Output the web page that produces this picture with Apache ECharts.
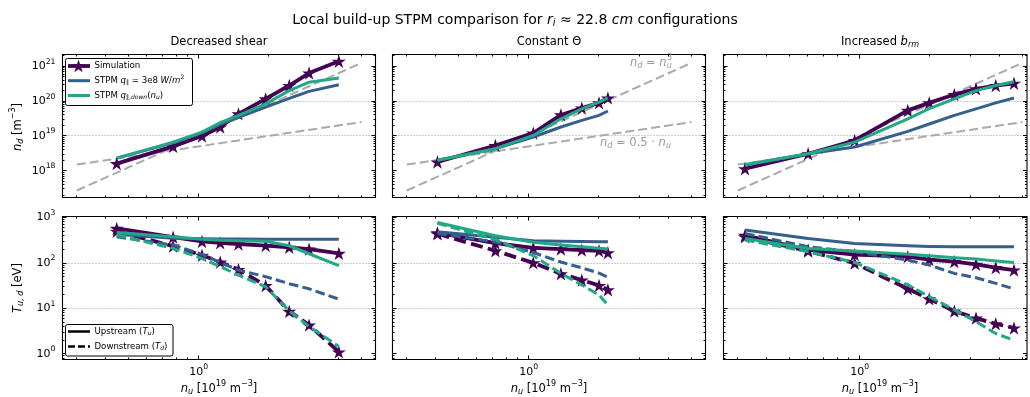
<!DOCTYPE html>
<html>
<head>
<meta charset="utf-8">
<script src="https://cdn.jsdelivr.net/npm/echarts@6/dist/echarts.min.js"></script>
<style>
  html, body { margin: 0; padding: 0; background: #ffffff; }
  #chart { width: 1030px; height: 397px; }
</style>
</head>
<body>
<div id="chart"></div>
<script>
// ---------- data: upstream density n_u [1e19 m^-3] ----------
// Decreased shear
const nuShear = [0.445, 0.777, 1.034, 1.238, 1.483, 1.94, 2.45, 2.98, 4.0];
const ndSimShear = [1.6e18, 5.0e18, 9.9e18, 1.8e19, 4.3e19, 1.16e20, 2.8e20, 6.4e20, 1.39e21];
const ndFixShear = [2.3e18, 6.3e18, 1.22e19, 2.15e19, 3.4e19, 6.7e19, 1.2e20, 1.9e20, 2.95e20];
const ndVarShear = [2.3e18, 6.6e18, 1.29e19, 2.4e19, 3.9e19, 8.3e19, 2.0e20, 3.5e20, 4.6e20];
const tUpSimShear = [580, 370, 298, 278, 262, 242, 222, 202, 163];
const tDownSimShear = [500, 235, 148, 105, 72, 31.7, 8.6, 4.3, 1.1];
const tUpFixShear = [430, 350, 340, 337, 336, 335, 335, 334, 334];
const tDownFixShear = [378, 249, 155, 103, 70, 50, 35, 27, 16];
const tUpVarShear = [470, 380, 335, 318, 308, 300, 240, 160, 88];
const tDownVarShear = [412, 210, 126, 83, 54, 30, 8.8, 4.0, 1.45];

// Constant Theta
const nuConst = [0.406, 0.72, 1.047, 1.376, 1.692, 2.006, 2.19];
const ndSimConst = [1.78e18, 5.3e18, 1.2e19, 4.0e19, 6.3e19, 8.9e19, 1.23e20];
const ndFixConst = [2.0e18, 4.3e18, 9.3e18, 1.8e19, 2.8e19, 3.9e19, 5.2e19];
const ndVarConst = [2.0e18, 4.3e18, 1.03e19, 3.1e19, 6.0e19, 9.3e19, 1.23e20];
const tUpSimConst = [460, 275, 215, 203, 193, 186, 168];
const tDownSimConst = [440, 186, 101, 58, 42, 32, 25.7];
const tUpFixConst = [490, 370, 310, 300, 296, 294, 294];
const tDownFixConst = [450, 290, 170, 105, 78, 60, 49];
const tUpVarConst = [780, 400, 285, 250, 228, 212, 203];
const tDownVarConst = [750, 330, 145, 59, 33, 19.8, 11.9];

// Increased b_rm
const nuBrm = [0.322, 0.601, 0.952, 1.61, 1.99, 2.55, 3.16, 3.84, 4.6];
const ndSimBrm = [1.14e18, 3.07e18, 7.4e18, 5.4e19, 8.9e19, 1.54e20, 2.24e20, 2.8e20, 3.25e20];
const ndFixBrm = [1.45e18, 3.07e18, 4.8e18, 1.35e19, 2.2e19, 3.9e19, 6.0e19, 8.9e19, 1.23e20];
const ndVarBrm = [1.48e18, 3.07e18, 6.6e18, 3.1e19, 6.1e19, 1.16e20, 2.0e20, 2.8e20, 3.6e20];
const tUpSimBrm = [405, 195, 153, 138, 119, 107, 93, 79, 70];
const tDownSimBrm = [378, 184, 99, 27, 16.2, 8.7, 6.1, 4.6, 3.7];
const tUpFixBrm = [531, 347, 270, 240, 232, 228, 228, 228, 228];
const tDownFixBrm = [448, 228, 177, 116, 90, 59, 47.5, 35.6, 26.9];
const tUpVarBrm = [347, 209, 184, 155, 145, 131, 122, 111, 102];
const tDownVarBrm = [320, 177, 103, 33, 18.2, 9.3, 5.1, 2.8, 2.0];

// reference scalings, end points of n_d = n_u^3 and n_d = 0.5 n_u
const refCube = [[0.3, 2.7e17], [5, 1.25e21]];
const refHalf = [[0.3, 1.5e18], [5, 2.5e19]];

// axis limits and ticks
const xLimits = [0.2604, 5.747];
const xLimitsRight = [0.2604, 5.23];
const ndLimits = [1.70e17, 2.18e21];
const tLimits = [0.75, 1057];
const xMajorTicks = [1];
const xMinorTicks = [0.3, 0.4, 0.5, 0.6, 0.7, 0.8, 0.9, 2, 3, 4, 5];
const ndMajorTicks = [1e18, 1e19, 1e20, 1e21];
const tMajorTicks = [1, 10, 100, 1000];
const minorMantissas = [2, 3, 4, 5, 6, 7, 8, 9];
const ndDecades = [1e17, 1e18, 1e19, 1e20, 1e21];
const tDecades = [0.1, 1, 10, 100];
const ndGridLines = [1e19, 1e20];
const tGridLines = [10, 100];

// ---------- style ----------
const FONT = '"DejaVu Sans", sans-serif';
const PURPLE = '#440154', BLUE = '#355f8d', TEAL = '#22a884', REFGRAY = '#aaaaaa';
const STAR = 'path://M0,-1L0.2245,-0.309L0.9511,-0.309L0.3633,0.118L0.5878,0.809L0,0.382L-0.5878,0.809L-0.3633,0.118L-0.9511,-0.309L-0.2245,-0.309Z';

const cols = [
  { left: 62.5, width: 313, cx: 219 },
  { left: 392.5, width: 313, cx: 549 },
  { left: 723.5, width: 303.5, cx: 880 }
];
const rows = [
  { top: 54.5, height: 143 },
  { top: 216.5, height: 143 }
];

function richSet(size, color) {
  const base = { fontFamily: FONT, fontSize: size, fill: color, color: color };
  const small = size * 0.7;
  return {
    r: Object.assign({}, base),
    i: Object.assign({}, base, { fontStyle: 'italic' }),
    sub: Object.assign({}, base, { fontSize: small, padding: [size * 0.5, 0, 0, 0] }),
    isub: Object.assign({}, base, { fontSize: small, fontStyle: 'italic', padding: [size * 0.5, 0, 0, 0] }),
    sup: Object.assign({}, base, { fontSize: small, padding: [0, 0, size * 0.82, 0] })
  };
}

function powLabel(v) {
  const e = Math.log10(v);
  const k = Math.round(e);
  if (Math.abs(e - k) > 1e-6) return '';
  return '{b|10}{s|' + k + '}';
}
const tickRich = {
  b: { fontFamily: FONT, fontSize: 11, color: '#000' },
  s: { fontFamily: FONT, fontSize: 7.7, color: '#000', padding: [0, 0, 9, 0] }
};

// dotted horizontal guides at selected decades
function renderGuide(params, api) {
  const cs = params.coordSys;
  const p = api.coord([api.value(0), api.value(1)]);
  const y = Math.round(p[1] - 0.5) + 0.5;
  return { type: 'line', shape: { x1: cs.x, y1: y, x2: cs.x + cs.width, y2: y },
    style: { stroke: '#9a9a9a', lineWidth: 1, lineDash: [1, 2] } };
}
function guides(g, xr, values) {
  return {
    type: 'custom', xAxisIndex: g, yAxisIndex: g, clip: false, silent: true, z: 1,
    encode: { x: 0, y: 1 }, renderItem: renderGuide,
    data: values.map(v => [xr[0], v])
  };
}

function curve(g, xs, ys, color, width, dashed, stars, z) {
  return {
    type: 'line', xAxisIndex: g, yAxisIndex: g, z: z, silent: true,
    data: xs.map((x, i) => [x, ys[i]]),
    symbol: stars ? STAR : 'none', symbolSize: 14, symbolKeepAspect: true,
    showSymbol: !!stars,
    itemStyle: { color: color },
    lineStyle: { color: color, width: width, type: dashed ? [width * 3.2, width * 1.4] : 'solid',
      cap: 'butt', join: 'round' },
    emphasis: { disabled: true }
  };
}

function refLine(g, pts) {
  return {
    type: 'line', xAxisIndex: g, yAxisIndex: g, z: 1.5, silent: true, data: pts,
    symbol: 'none', lineStyle: { color: REFGRAY, width: 2, type: [9, 4] },
    emphasis: { disabled: true }
  };
}

const panels = [
  { nu: nuShear, nd: [ndSimShear, ndFixShear, ndVarShear],
    up: [tUpSimShear, tUpFixShear, tUpVarShear], down: [tDownSimShear, tDownFixShear, tDownVarShear] },
  { nu: nuConst, nd: [ndSimConst, ndFixConst, ndVarConst],
    up: [tUpSimConst, tUpFixConst, tUpVarConst], down: [tDownSimConst, tDownFixConst, tDownVarConst] },
  { nu: nuBrm, nd: [ndSimBrm, ndFixBrm, ndVarBrm],
    up: [tUpSimBrm, tUpFixBrm, tUpVarBrm], down: [tDownSimBrm, tDownFixBrm, tDownVarBrm] }
];

const grids = [], xAxes = [], yAxes = [], series = [], limits = [];
rows.forEach((row, r) => {
  cols.forEach((col, c) => {
    const g = r * 3 + c;
    const xr = c === 2 ? xLimitsRight : xLimits;
    const yr = r === 0 ? ndLimits : tLimits;
    limits.push({ g: g, xr: xr, yr: yr,
      yMajor: r === 0 ? ndMajorTicks : tMajorTicks, yDecades: r === 0 ? ndDecades : tDecades });
    grids.push({ left: col.left, top: row.top, width: col.width, height: row.height,
      show: true, borderColor: '#000', borderWidth: 1.1, backgroundColor: '#fff' });
    xAxes.push({ type: 'log', gridIndex: g, min: xr[0], max: xr[1],
      axisLine: { show: false }, axisTick: { show: false }, splitLine: { show: false },
      axisLabel: { show: r === 1, formatter: powLabel, rich: tickRich, margin: 4,
        showMinLabel: true, showMaxLabel: true } });
    yAxes.push({ type: 'log', gridIndex: g, min: yr[0], max: yr[1],
      axisLine: { show: false }, axisTick: { show: false }, splitLine: { show: false },
      axisLabel: { show: c === 0, formatter: powLabel, rich: tickRich, margin: 7 } });

    const p = panels[c];
    if (r === 0) {
      series.push(guides(g, xr, ndGridLines));
      series.push(refLine(g, refCube));
      series.push(refLine(g, refHalf));
      series.push(curve(g, p.nu, p.nd[0], PURPLE, 3.8, false, true, 2));
      series.push(curve(g, p.nu, p.nd[1], BLUE, 3, false, false, 3));
      series.push(curve(g, p.nu, p.nd[2], TEAL, 3, false, false, 4));
    } else {
      series.push(guides(g, xr, tGridLines));
      series.push(curve(g, p.nu, p.up[0], PURPLE, 3.8, false, true, 2));
      series.push(curve(g, p.nu, p.down[0], PURPLE, 3.8, true, true, 2));
      series.push(curve(g, p.nu, p.up[1], BLUE, 3, false, false, 3));
      series.push(curve(g, p.nu, p.down[1], BLUE, 3, true, false, 3));
      series.push(curve(g, p.nu, p.up[2], TEAL, 3, false, false, 4));
      series.push(curve(g, p.nu, p.down[2], TEAL, 3, true, false, 4));
    }
  });
});

// ---------- text and legends ----------
function txt(x, y, text, size, opts) {
  opts = opts || {};
  return Object.assign({
    type: 'text', x: x, y: y, z: 100,
    style: { text: text, rich: richSet(size, opts.color || '#000'),
      align: opts.align || 'center', verticalAlign: 'middle' }
  }, opts.rotation ? { rotation: opts.rotation } : {});
}
function starPoints(cx, cy, r) {
  const pts = [];
  for (let i = 0; i < 10; i++) {
    const a = -Math.PI / 2 + i * Math.PI / 5;
    const rr = i % 2 === 0 ? r : r * 0.382;
    pts.push([cx + rr * Math.cos(a), cy + rr * Math.sin(a)]);
  }
  return pts;
}

const graphics = [];
graphics.push(txt(515, 20, '{r|Local build-up STPM comparison for }{i|r}{isub|i}{r| ≈ 22.8 }{i|cm}{r| configurations}', 14));
graphics.push(txt(cols[0].cx, 42, '{r|Decreased shear}', 11.5));
graphics.push(txt(cols[1].cx, 42, '{r|Constant Θ}', 11.5));
graphics.push(txt(cols[2].cx, 42, '{r|Increased }{i|b}{isub|rm}', 11.5));
cols.forEach(col => graphics.push(txt(col.cx, 389, '{i|n}{isub|u}{r| [10}{sup|19}{r| m}{sup|−3}{r|]}', 11.5)));
graphics.push(txt(18, 127, '{i|n}{isub|d}{r| [m}{sup|−3}{r|]}', 11.5, { rotation: Math.PI / 2 }));
graphics.push(txt(18, 288, '{i|T}{isub|u, d}{r| [eV]}', 11.5, { rotation: Math.PI / 2 }));

// scaling annotations in the middle panel
graphics.push(txt(630, 63, '{i|n}{isub|d}{r| = }{i|n}{isub|u}', 11.5, { color: '#9a9a9a', align: 'left' }));
graphics.push(txt(667, 58, '{r|3}', 8, { color: '#9a9a9a', align: 'left' }));
graphics.push(txt(600, 143.5, '{i|n}{isub|d}{r| = 0.5 · }{i|n}{isub|u}', 11.5, { color: '#9a9a9a', align: 'left' }));

// legend: models
graphics.push({ type: 'rect', z: 100, shape: { x: 65.5, y: 58.5, width: 127, height: 47, r: 2 },
  style: { fill: '#fff', stroke: '#000', lineWidth: 1 } });
graphics.push({ type: 'line', z: 101, shape: { x1: 68, y1: 66, x2: 90, y2: 66 }, style: { stroke: PURPLE, lineWidth: 3.8 } });
graphics.push({ type: 'polygon', z: 102, shape: { points: starPoints(78.5, 66.5, 7) }, style: { fill: PURPLE } });
graphics.push({ type: 'line', z: 101, shape: { x1: 68, y1: 80.7, x2: 90, y2: 80.7 }, style: { stroke: BLUE, lineWidth: 3 } });
graphics.push({ type: 'line', z: 101, shape: { x1: 68, y1: 95.5, x2: 90, y2: 95.5 }, style: { stroke: TEAL, lineWidth: 3 } });
graphics.push(txt(94.5, 66, '{r|Simulation}', 8.6, { align: 'left' }));
graphics.push(txt(94.5, 80.7, '{r|STPM }{i|q}{sub|∥}{r| = 3e8 }{i|W}{r|/}{i|m}{sup|2}', 8.6, { align: 'left' }));
graphics.push(txt(94.5, 95.5, '{r|STPM }{i|q}{sub|∥,}{isub|down}{r|(}{i|n}{isub|u}{r|)}', 8.6, { align: 'left' }));

// legend: line styles
graphics.push({ type: 'rect', z: 100, shape: { x: 65.5, y: 324.5, width: 107.5, height: 31.5, r: 2 },
  style: { fill: '#fff', stroke: '#000', lineWidth: 1 } });
graphics.push({ type: 'line', z: 101, shape: { x1: 68, y1: 331.5, x2: 90, y2: 331.5 }, style: { stroke: '#000', lineWidth: 2.5 } });
graphics.push({ type: 'line', z: 101, shape: { x1: 68, y1: 346.5, x2: 90, y2: 346.5 }, style: { stroke: '#000', lineWidth: 2.5, lineDash: [7, 3] } });
graphics.push(txt(94.5, 331.5, '{r|Upstream (}{i|T}{isub|u}{r|)}', 8.6, { align: 'left' }));
graphics.push(txt(94.5, 346.5, '{r|Downstream (}{i|T}{isub|d}{r|)}', 8.6, { align: 'left' }));

const chart = echarts.init(document.getElementById('chart'), null, { renderer: 'canvas' });
chart.setOption({
  animation: false,
  backgroundColor: '#ffffff',
  textStyle: { fontFamily: FONT },
  grid: grids,
  xAxis: xAxes,
  yAxis: yAxes,
  series: series,
  graphic: { elements: graphics }
});

// inward major/minor ticks on all four sides, placed through each grid's scales
function tickLine(x1, y1, x2, y2) {
  return { type: 'line', z: 60, silent: true, shape: { x1: x1, y1: y1, x2: x2, y2: y2 },
    style: { stroke: '#000', lineWidth: 1 } };
}
const tickEls = [];
limits.forEach(lim => {
  const finder = { gridIndex: lim.g };
  const bl = chart.convertToPixel(finder, [lim.xr[0], lim.yr[0]]);
  const tr = chart.convertToPixel(finder, [lim.xr[1], lim.yr[1]]);
  const xs = xMajorTicks.map(v => [v, 4]).concat(
    xMinorTicks.filter(v => v > lim.xr[0] && v < lim.xr[1]).map(v => [v, 2]));
  xs.forEach(t => {
    const px = chart.convertToPixel(finder, [t[0], lim.yr[0]])[0];
    const x = Math.round(px - 0.5) + 0.5;
    tickEls.push(tickLine(x, bl[1], x, bl[1] - t[1]));
    tickEls.push(tickLine(x, tr[1], x, tr[1] + t[1]));
  });
  const ys = lim.yMajor.filter(v => v > lim.yr[0] && v < lim.yr[1]).map(v => [v, 4]);
  lim.yDecades.forEach(d => minorMantissas.forEach(m => {
    const v = m * d;
    if (v > lim.yr[0] && v < lim.yr[1]) ys.push([v, 2]);
  }));
  ys.forEach(t => {
    const py = chart.convertToPixel(finder, [lim.xr[0], t[0]])[1];
    const y = Math.round(py - 0.5) + 0.5;
    tickEls.push(tickLine(bl[0], y, bl[0] + t[1], y));
    tickEls.push(tickLine(tr[0], y, tr[0] - t[1], y));
  });
});
chart.setOption({ graphic: { elements: graphics.concat(tickEls) } });
</script>
</body>
</html>
